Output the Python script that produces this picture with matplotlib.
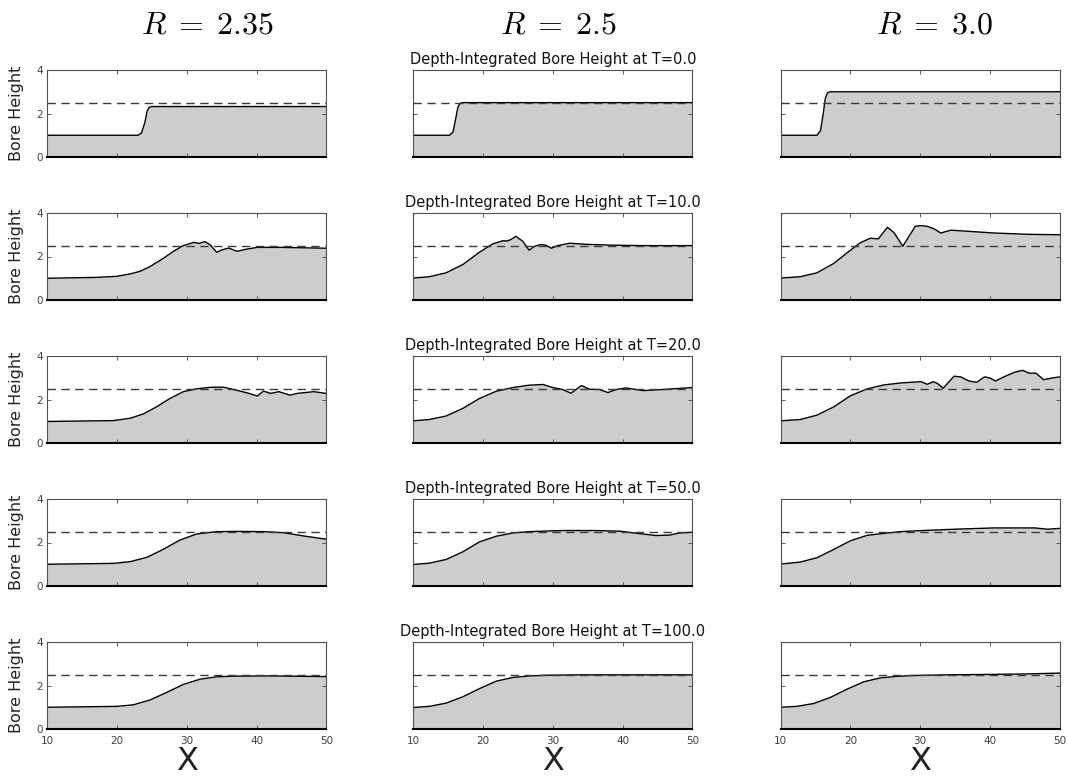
import matplotlib
matplotlib.use("Agg")
from matplotlib import pyplot as plt

# column / row labels
r_values = ["2.35", "2.5", "3.0"]
times = ["0.0", "10.0", "20.0", "50.0", "100.0"]
x_ticks = [10, 20, 30, 40, 50]
y_ticks = [0, 2, 4]
ref_level = 2.5

# ---- R = 2.35 ----
x_a0 = [10, 23.0, 23.5, 24.0, 24.3, 24.6, 25.0, 50]
h_a0 = [1.0, 1.0, 1.1, 1.6, 2.1, 2.28, 2.32, 2.32]
x_a1 = [10, 17.1, 20.0, 21.9, 23.3, 24.7, 26.65, 28.1, 29.5, 31.0, 31.7, 32.6, 33.35,
        34.3, 35.0, 36.0, 37.2, 38.6, 40.1, 43.4, 50]
h_a1 = [1.0, 1.04, 1.09, 1.2, 1.32, 1.53, 1.92, 2.24, 2.5, 2.65, 2.6, 2.68, 2.54,
        2.19, 2.3, 2.39, 2.24, 2.34, 2.42, 2.42, 2.38]
x_a2 = [10, 19.5, 21.9, 23.8, 25.7, 27.6, 29.5, 31.4, 33.35, 35.2, 36.7, 38.6, 40.1,
        41.0, 42.0, 43.2, 44.8, 45.8, 48.2, 50]
h_a2 = [0.99, 1.03, 1.14, 1.34, 1.67, 2.05, 2.36, 2.49, 2.56, 2.57, 2.46, 2.31, 2.16,
        2.39, 2.28, 2.36, 2.2, 2.28, 2.36, 2.28]
x_a3 = [10, 19.5, 21.9, 24.3, 26.65, 29.0, 31.4, 34.3, 37.2, 41.0, 43.9, 46.75, 50]
h_a3 = [1.0, 1.04, 1.12, 1.32, 1.69, 2.11, 2.39, 2.5, 2.51, 2.5, 2.45, 2.3, 2.15]
x_a4 = [10, 19.95, 22.3, 24.7, 27.1, 29.5, 31.9, 34.3, 36.7, 41.5, 50]
h_a4 = [1.0, 1.04, 1.11, 1.33, 1.68, 2.05, 2.29, 2.4, 2.43, 2.44, 2.41]

# ---- R = 2.5 ----
x_b0 = [10, 15.2, 15.7, 16.1, 16.4, 16.7, 17.1, 50]
h_b0 = [1.0, 1.0, 1.15, 1.8, 2.3, 2.46, 2.5, 2.5]
x_b1 = [10, 12.3, 14.7, 17.1, 19.5, 21.4, 22.8, 23.5, 24.0, 24.7, 25.7, 26.6, 27.4,
        28.3, 29.0, 29.8, 30.7, 32.4, 34.8, 38.6, 43.4, 50]
h_b1 = [1.01, 1.07, 1.25, 1.63, 2.2, 2.58, 2.72, 2.72, 2.78, 2.93, 2.7, 2.29, 2.47,
        2.55, 2.52, 2.38, 2.5, 2.61, 2.56, 2.52, 2.5, 2.5]
x_b2 = [10, 12.3, 14.7, 17.1, 19.5, 21.9, 24.3, 26.65, 28.6, 30.0, 31.4, 32.6, 34.1,
        35.3, 36.7, 37.9, 39.1, 40.5, 42.9, 45.8, 50]
h_b2 = [1.02, 1.08, 1.24, 1.59, 2.05, 2.38, 2.55, 2.66, 2.69, 2.55, 2.46, 2.29, 2.64,
        2.47, 2.46, 2.32, 2.46, 2.53, 2.41, 2.46, 2.55]
x_b3 = [10, 12.3, 14.7, 17.1, 19.5, 21.9, 24.3, 26.65, 31.4, 36.2, 39.6, 42.4, 44.8,
        46.75, 48.2, 50]
h_b3 = [0.99, 1.05, 1.22, 1.57, 2.03, 2.29, 2.44, 2.5, 2.55, 2.55, 2.52, 2.41, 2.32,
        2.34, 2.44, 2.47]
x_b4 = [10, 12.3, 14.7, 17.1, 19.5, 21.9, 24.3, 26.65, 29.0, 33.8, 50]
h_b4 = [0.99, 1.04, 1.19, 1.48, 1.86, 2.2, 2.37, 2.44, 2.47, 2.49, 2.49]

# ---- R = 3.0 ----
x_c0 = [10, 15.2, 15.7, 16.1, 16.4, 16.7, 17.1, 50]
h_c0 = [1.0, 1.0, 1.2, 2.0, 2.7, 2.95, 3.0, 3.0]
x_c1 = [10, 12.8, 15.2, 17.6, 20.0, 21.4, 22.85, 24.0, 25.3, 26.2, 26.9, 27.5, 28.4,
        29.3, 30.1, 31.0, 32.0, 32.95, 34.4, 36.8, 40.6, 45.4, 50]
h_c1 = [1.01, 1.07, 1.25, 1.68, 2.29, 2.63, 2.84, 2.81, 3.34, 3.11, 2.78, 2.47, 2.93,
        3.39, 3.42, 3.39, 3.27, 3.08, 3.21, 3.16, 3.08, 3.02, 3.0]
x_c2 = [10, 12.8, 15.2, 17.6, 20.0, 22.4, 24.8, 27.2, 30.1, 31.0, 31.9, 32.5, 33.3,
        34.85, 35.8, 37.0, 38.1, 39.2, 40.0, 40.8, 42.0, 43.5, 44.7, 45.6, 46.6, 47.7,
        48.8, 50]
h_c2 = [1.02, 1.08, 1.28, 1.66, 2.17, 2.49, 2.67, 2.76, 2.82, 2.7, 2.82, 2.73, 2.52,
        3.07, 3.04, 2.85, 2.79, 3.04, 2.99, 2.85, 3.04, 3.25, 3.34, 3.21, 3.21, 2.91,
        2.98, 3.04]
x_c3 = [10, 12.8, 15.2, 17.6, 20.0, 22.4, 24.8, 27.2, 31.0, 35.8, 40.6, 46.4, 48.3, 50]
h_c3 = [1.01, 1.1, 1.3, 1.68, 2.08, 2.33, 2.42, 2.5, 2.56, 2.62, 2.67, 2.67, 2.61, 2.65]
x_c4 = [10, 12.3, 14.7, 17.1, 19.5, 21.9, 24.3, 26.65, 29.0, 33.8, 40.0, 45.0, 50]
h_c4 = [1.0, 1.04, 1.17, 1.45, 1.83, 2.17, 2.35, 2.42, 2.46, 2.49, 2.51, 2.53, 2.57]

panels = [
    [(x_a0, h_a0), (x_a1, h_a1), (x_a2, h_a2), (x_a3, h_a3), (x_a4, h_a4)],
    [(x_b0, h_b0), (x_b1, h_b1), (x_b2, h_b2), (x_b3, h_b3), (x_b4, h_b4)],
    [(x_c0, h_c0), (x_c1, h_c1), (x_c2, h_c2), (x_c3, h_c3), (x_c4, h_c4)],
]

W, H = 1068, 777
fig = plt.figure(figsize=(W / 100, H / 100), dpi=100)

col_left = [47.3, 413.3, 780.7]
row_top = [70, 213, 356, 499, 642]
ax_w, ax_h = 279, 87
title_cx = [208, 559, 935]  # R titles sit a bit off the axes centres

for c in range(3):
    for r in range(5):
        ax = fig.add_axes([col_left[c] / W, 1 - (row_top[r] + ax_h) / H, ax_w / W, ax_h / H])
        xs, hs = panels[c][r]
        ax.fill_between(xs, 0, hs, color='#cdcdcd', linewidth=0)
        ax.plot(xs, hs, color='black', linewidth=1.0)
        ax.axhline(ref_level, color='#3a3a3a', linestyle=(0, (6, 4)), linewidth=1.0)
        ax.set_xlim(10, 50)
        ax.set_ylim(0, 4)
        ax.set_xticks(x_ticks)
        ax.set_yticks(y_ticks)
        ax.tick_params(direction='in', top=True, right=True, length=3, width=0.6,
                       colors='#404040', labelsize=7.5, pad=3)
        ax.tick_params(axis='x', pad=5)
        for s in ['top', 'left', 'right']:
            ax.spines[s].set_color('#505050')
            ax.spines[s].set_linewidth(0.8)
        ax.spines['bottom'].set_color('black')
        ax.spines['bottom'].set_linewidth(1.5)
        if r < 4:
            ax.set_xticklabels([])
        if c > 0:
            ax.set_yticklabels([])
        else:
            ax.set_ylabel('Bore Height', fontsize=11.5, color='#222222', labelpad=9)
        if c == 1:
            ax.set_title('Depth-Integrated Bore Height at T=' + times[r], fontsize=10.5,
                         color='#111111', pad=4)

for c in range(3):
    fig.text(title_cx[c] / W, 1 - 25 / H, r'$R\;=\;' + r_values[c] + '$',
             fontsize=23, ha='center', va='center', math_fontfamily='cm')
    fig.text((col_left[c] + ax_w / 2) / W, 1 - 770 / H, 'X', fontsize=23,
             color='#222222', ha='center', va='baseline')

fig.savefig('out.png', dpi=100)
